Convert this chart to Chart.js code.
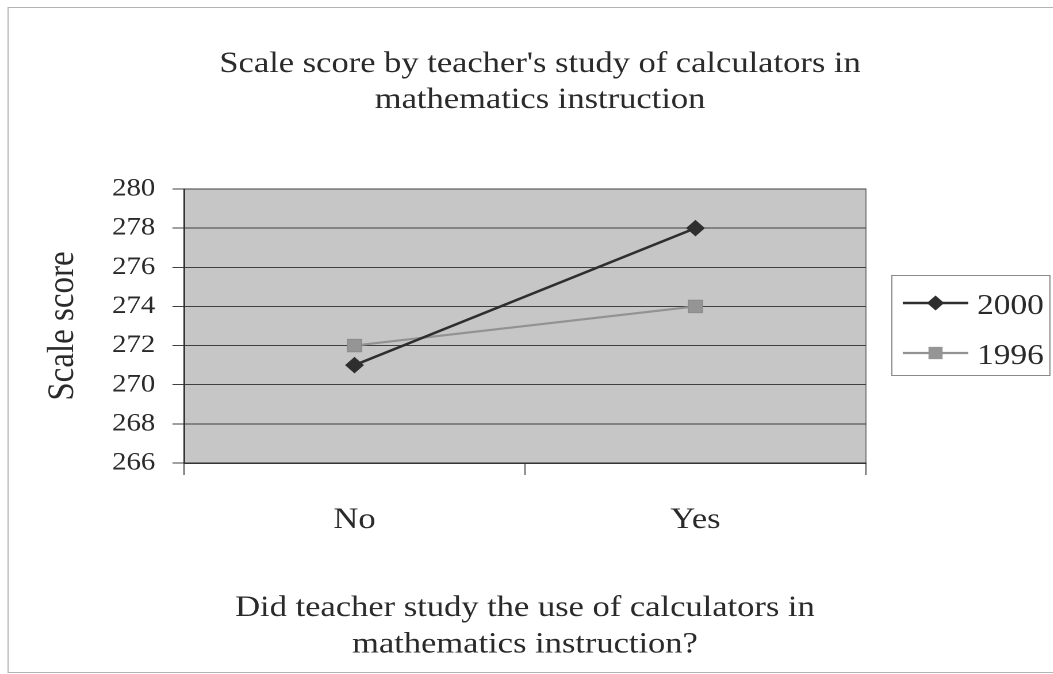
<!DOCTYPE html>
<html>
<head>
<meta charset="utf-8">
<script src="https://cdn.jsdelivr.net/npm/chart.js@4.4.1/dist/chart.umd.min.js"></script>
<style>
  html, body { margin: 0; padding: 0; background: #ffffff; overflow: hidden; }
  #wrap { width: 1053px; height: 674px; overflow: hidden; position: relative; }
  #c { position: absolute; left: 0; top: 0; transform: scaleX(1.15); transform-origin: 0 0; }
</style>
</head>
<body>
<div id="wrap"><canvas id="c" width="916" height="674"></canvas></div>
<script>
// ---- data ----
const categories = ['No', 'Yes'];
const values2000 = [271, 278];
const values1996 = [272, 274];
const seriesLabels = ['2000', '1996'];
const yMin = 266;
const yMax = 280;
const yStep = 2;
const chartTitle = ["Scale score by teacher's study of calculators in", 'mathematics instruction'];
const xTitle = ['Did teacher study the use of calculators in', 'mathematics instruction?'];
const yTitle = 'Scale score';

const FONT = "'Liberation Serif', 'Times New Roman', serif";
const TXT = '#2a2a2a';

const decor = {
  id: 'decor',
  beforeDraw(chart) {
    const {ctx, chartArea: a} = chart;
    ctx.save();
    // outer frame
    ctx.strokeStyle = '#b4b4b4';
    ctx.lineWidth = 1;
    ctx.strokeRect(7, 7.5, 2000, 665);
    // plot background
    ctx.fillStyle = '#c6c6c6';
    ctx.fillRect(a.left, a.top, a.right - a.left, a.bottom - a.top);
    ctx.strokeStyle = '#7a7a7a';
    ctx.strokeRect(a.left, a.top, a.right - a.left, a.bottom - a.top);
    ctx.restore();
  },
  afterDraw(chart) {
    const {ctx} = chart;
    ctx.save();
    // chart title
    ctx.fillStyle = TXT;
    ctx.font = '30px ' + FONT;
    ctx.textAlign = 'center';
    ctx.textBaseline = 'alphabetic';
    const tb = [72, 108];
    chartTitle.forEach((t, i) => ctx.fillText(t, 469.6, tb[i]));
    // legend
    ctx.strokeStyle = '#8a8a8a';
    ctx.lineWidth = 1;
    ctx.strokeRect(775.5, 275.5, 137.5, 100);
    chart.data.datasets.forEach((ds, i) => {
      const y = 303 + i * 50;
      ctx.strokeStyle = ds.borderColor;
      ctx.lineWidth = ds.borderWidth;
      ctx.beginPath();
      ctx.moveTo(785, y);
      ctx.lineTo(842, y);
      ctx.stroke();
      ctx.fillStyle = ds.pointBackgroundColor;
      const r = ds.pointRadius;
      const cx = 813.5;
      ctx.beginPath();
      if (ds.pointStyle === 'rectRot') {
        ctx.moveTo(cx - r, y); ctx.lineTo(cx, y - r); ctx.lineTo(cx + r, y); ctx.lineTo(cx, y + r);
        ctx.closePath();
      } else {
        const s = r * Math.SQRT1_2;
        ctx.rect(cx - s, y - s, 2 * s, 2 * s);
      }
      ctx.fill();
      ctx.fillStyle = TXT;
      ctx.font = '29px ' + FONT;
      ctx.textAlign = 'left';
      ctx.fillText(ds.label, 849.6, y + 11);
    });
    ctx.restore();
  }
};

new Chart(document.getElementById('c'), {
  type: 'line',
  data: {
    labels: categories,
    datasets: [
      {
        label: seriesLabels[0],
        data: values2000,
        borderColor: '#2e2e2e',
        backgroundColor: '#2e2e2e',
        pointBackgroundColor: '#2e2e2e',
        pointBorderColor: '#2e2e2e',
        borderWidth: 2.5,
        pointStyle: 'rectRot',
        pointRadius: 7.5,
        pointBorderWidth: 1,
        tension: 0,
        order: 1
      },
      {
        label: seriesLabels[1],
        data: values1996,
        borderColor: '#929292',
        backgroundColor: '#929292',
        pointBackgroundColor: '#959595',
        pointBorderColor: '#8c8c8c',
        borderWidth: 2.2,
        pointStyle: 'rect',
        pointRadius: 8.7,
        pointBorderWidth: 1,
        tension: 0,
        order: 2
      }
    ]
  },
  options: {
    responsive: false,
    devicePixelRatio: 2,
    animation: false,
    events: [],
    layout: { padding: { left: 0, top: 189, right: 163, bottom: 0 } },
    plugins: {
      legend: { display: false },
      title: { display: false },
      tooltip: { enabled: false }
    },
    scales: {
      x: {
        type: 'category',
        offset: true,
        afterFit(s) { s.height = 211; },
        grid: {
          offset: true,
          drawOnChartArea: false,
          drawTicks: true,
          tickLength: 12,
          color: '#555555',
          lineWidth: 1
        },
        border: { display: true, color: '#333333', width: 1.5 },
        ticks: {
          color: TXT,
          padding: 27,
          font: { family: FONT, size: 30 }
        },
        title: {
          display: true,
          text: xTitle,
          color: TXT,
          font: { family: FONT, size: 30, lineHeight: 1.22 },
          padding: { top: 0, bottom: 11 }
        }
      },
      y: {
        min: yMin,
        max: yMax,
        afterFit(s) { s.width = 160; },
        grid: {
          color: '#404040',
          lineWidth: 1,
          drawTicks: true,
          tickLength: 10
        },
        border: { display: true, color: '#333333', width: 1.5 },
        ticks: {
          stepSize: yStep,
          color: TXT,
          padding: 15,
          font: { family: FONT, size: 25 }
        },
        title: {
          display: true,
          text: yTitle,
          color: TXT,
          font: { family: FONT, size: 33, lineHeight: 1.2 },
          padding: { top: 35, bottom: 0 }
        }
      }
    }
  },
  plugins: [decor]
});
</script>
</body>
</html>
